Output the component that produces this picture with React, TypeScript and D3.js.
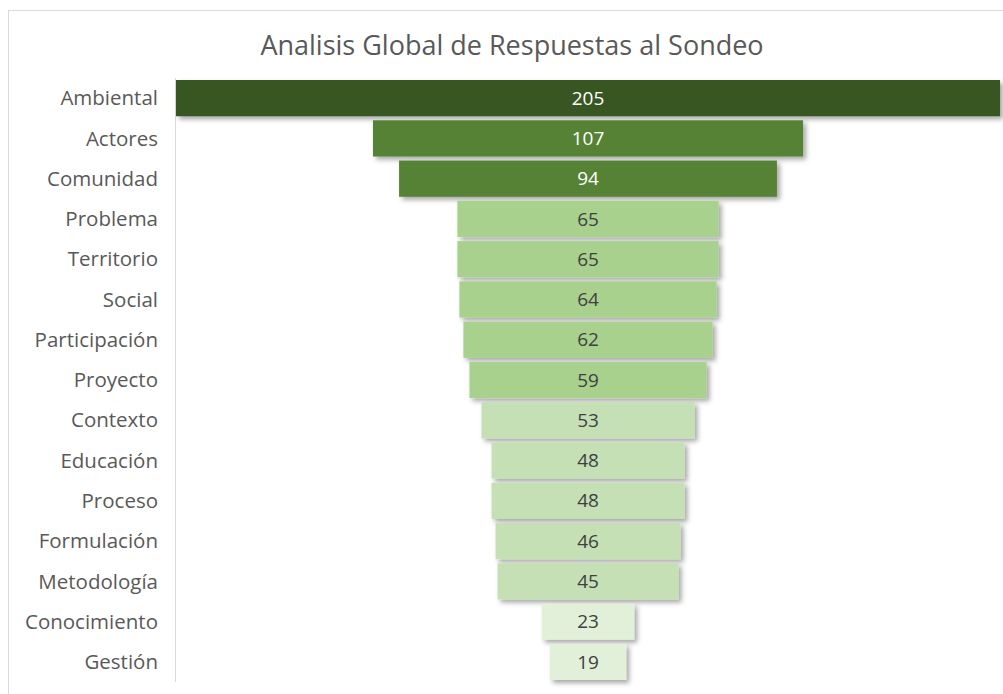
import React, { useRef, useEffect } from "react";
import * as d3 from "d3";

const categories = [
  "Ambiental",
  "Actores",
  "Comunidad",
  "Problema",
  "Territorio",
  "Social",
  "Participación",
  "Proyecto",
  "Contexto",
  "Educación",
  "Proceso",
  "Formulación",
  "Metodología",
  "Conocimiento",
  "Gestión",
];
const values = [205, 107, 94, 65, 65, 64, 62, 59, 53, 48, 48, 46, 45, 23, 19];
const barColors = [
  "#375623",
  "#548235",
  "#548235",
  "#a9d18e",
  "#a9d18e",
  "#a9d18e",
  "#a9d18e",
  "#a9d18e",
  "#c5e0b4",
  "#c5e0b4",
  "#c5e0b4",
  "#c5e0b4",
  "#c5e0b4",
  "#e2f0d9",
  "#e2f0d9",
];
const chartTitle = "Analisis Global de Respuestas al Sondeo";

const W = 1003;
const H = 694;

export default function App() {
  const svgRef = useRef<SVGSVGElement>(null);

  useEffect(() => {
    if (!svgRef.current) return;
    const svg = d3.select(svgRef.current);
    svg.selectAll("*").remove();

    const font = "'Open Sans', sans-serif";
    const axisX = 175;
    const centerX = 588;

    // drop shadow filter
    const defs = svg.append("defs");
    const f = defs
      .append("filter")
      .attr("id", "shadow")
      .attr("x", "-10%")
      .attr("y", "-30%")
      .attr("width", "130%")
      .attr("height", "180%");
    f.append("feDropShadow")
      .attr("dx", 3)
      .attr("dy", 3)
      .attr("stdDeviation", 2.5)
      .attr("flood-color", "#000")
      .attr("flood-opacity", 0.35);

    // chart frame
    svg
      .append("rect")
      .attr("x", 8.5)
      .attr("y", 10.5)
      .attr("width", W + 20)
      .attr("height", H + 20)
      .attr("fill", "#fff")
      .attr("stroke", "#d9d9d9");

    svg
      .append("text")
      .attr("x", 512)
      .attr("y", 55)
      .attr("text-anchor", "middle")
      .attr("font-family", font)
      .attr("font-size", 27)
      .attr("fill", "#595959")
      .text(chartTitle);

    const y = d3
      .scaleBand<string>()
      .domain(categories)
      .range([78, 682])
      .paddingInner(0.1)
      .paddingOuter(0.05);

    const w = d3.scaleLinear().domain([0, 205]).range([0, 824]);

    // axis line
    svg
      .append("line")
      .attr("x1", axisX + 0.5)
      .attr("x2", axisX + 0.5)
      .attr("y1", 78)
      .attr("y2", 682)
      .attr("stroke", "#d9d9d9");

    const rows = svg
      .selectAll(".row")
      .data(categories)
      .join("g")
      .attr("class", "row");

    rows
      .append("rect")
      .attr("x", (_, i) => centerX - w(values[i]) / 2)
      .attr("y", (d) => y(d)!)
      .attr("width", (_, i) => w(values[i]))
      .attr("height", y.bandwidth())
      .attr("fill", (_, i) => barColors[i])
      .attr("filter", "url(#shadow)");

    rows
      .append("text")
      .attr("x", centerX)
      .attr("y", (d) => y(d)! + y.bandwidth() / 2)
      .attr("dy", "0.35em")
      .attr("text-anchor", "middle")
      .attr("font-family", font)
      .attr("font-size", 19)
      .attr("fill", (_, i) => (i < 3 ? "#ffffff" : "#404040"))
      .text((_, i) => values[i]);

    rows
      .append("text")
      .attr("x", 158)
      .attr("y", (d) => y(d)! + y.bandwidth() / 2)
      .attr("dy", "0.35em")
      .attr("text-anchor", "end")
      .attr("font-family", font)
      .attr("font-size", 20.5)
      .attr("fill", "#595959")
      .text((d) => d);
  }, []);

  return (
    <svg
      ref={svgRef}
      width={W}
      height={H}
      style={{ position: "absolute", left: 0, top: 0, display: "block" }}
    />
  );
}
